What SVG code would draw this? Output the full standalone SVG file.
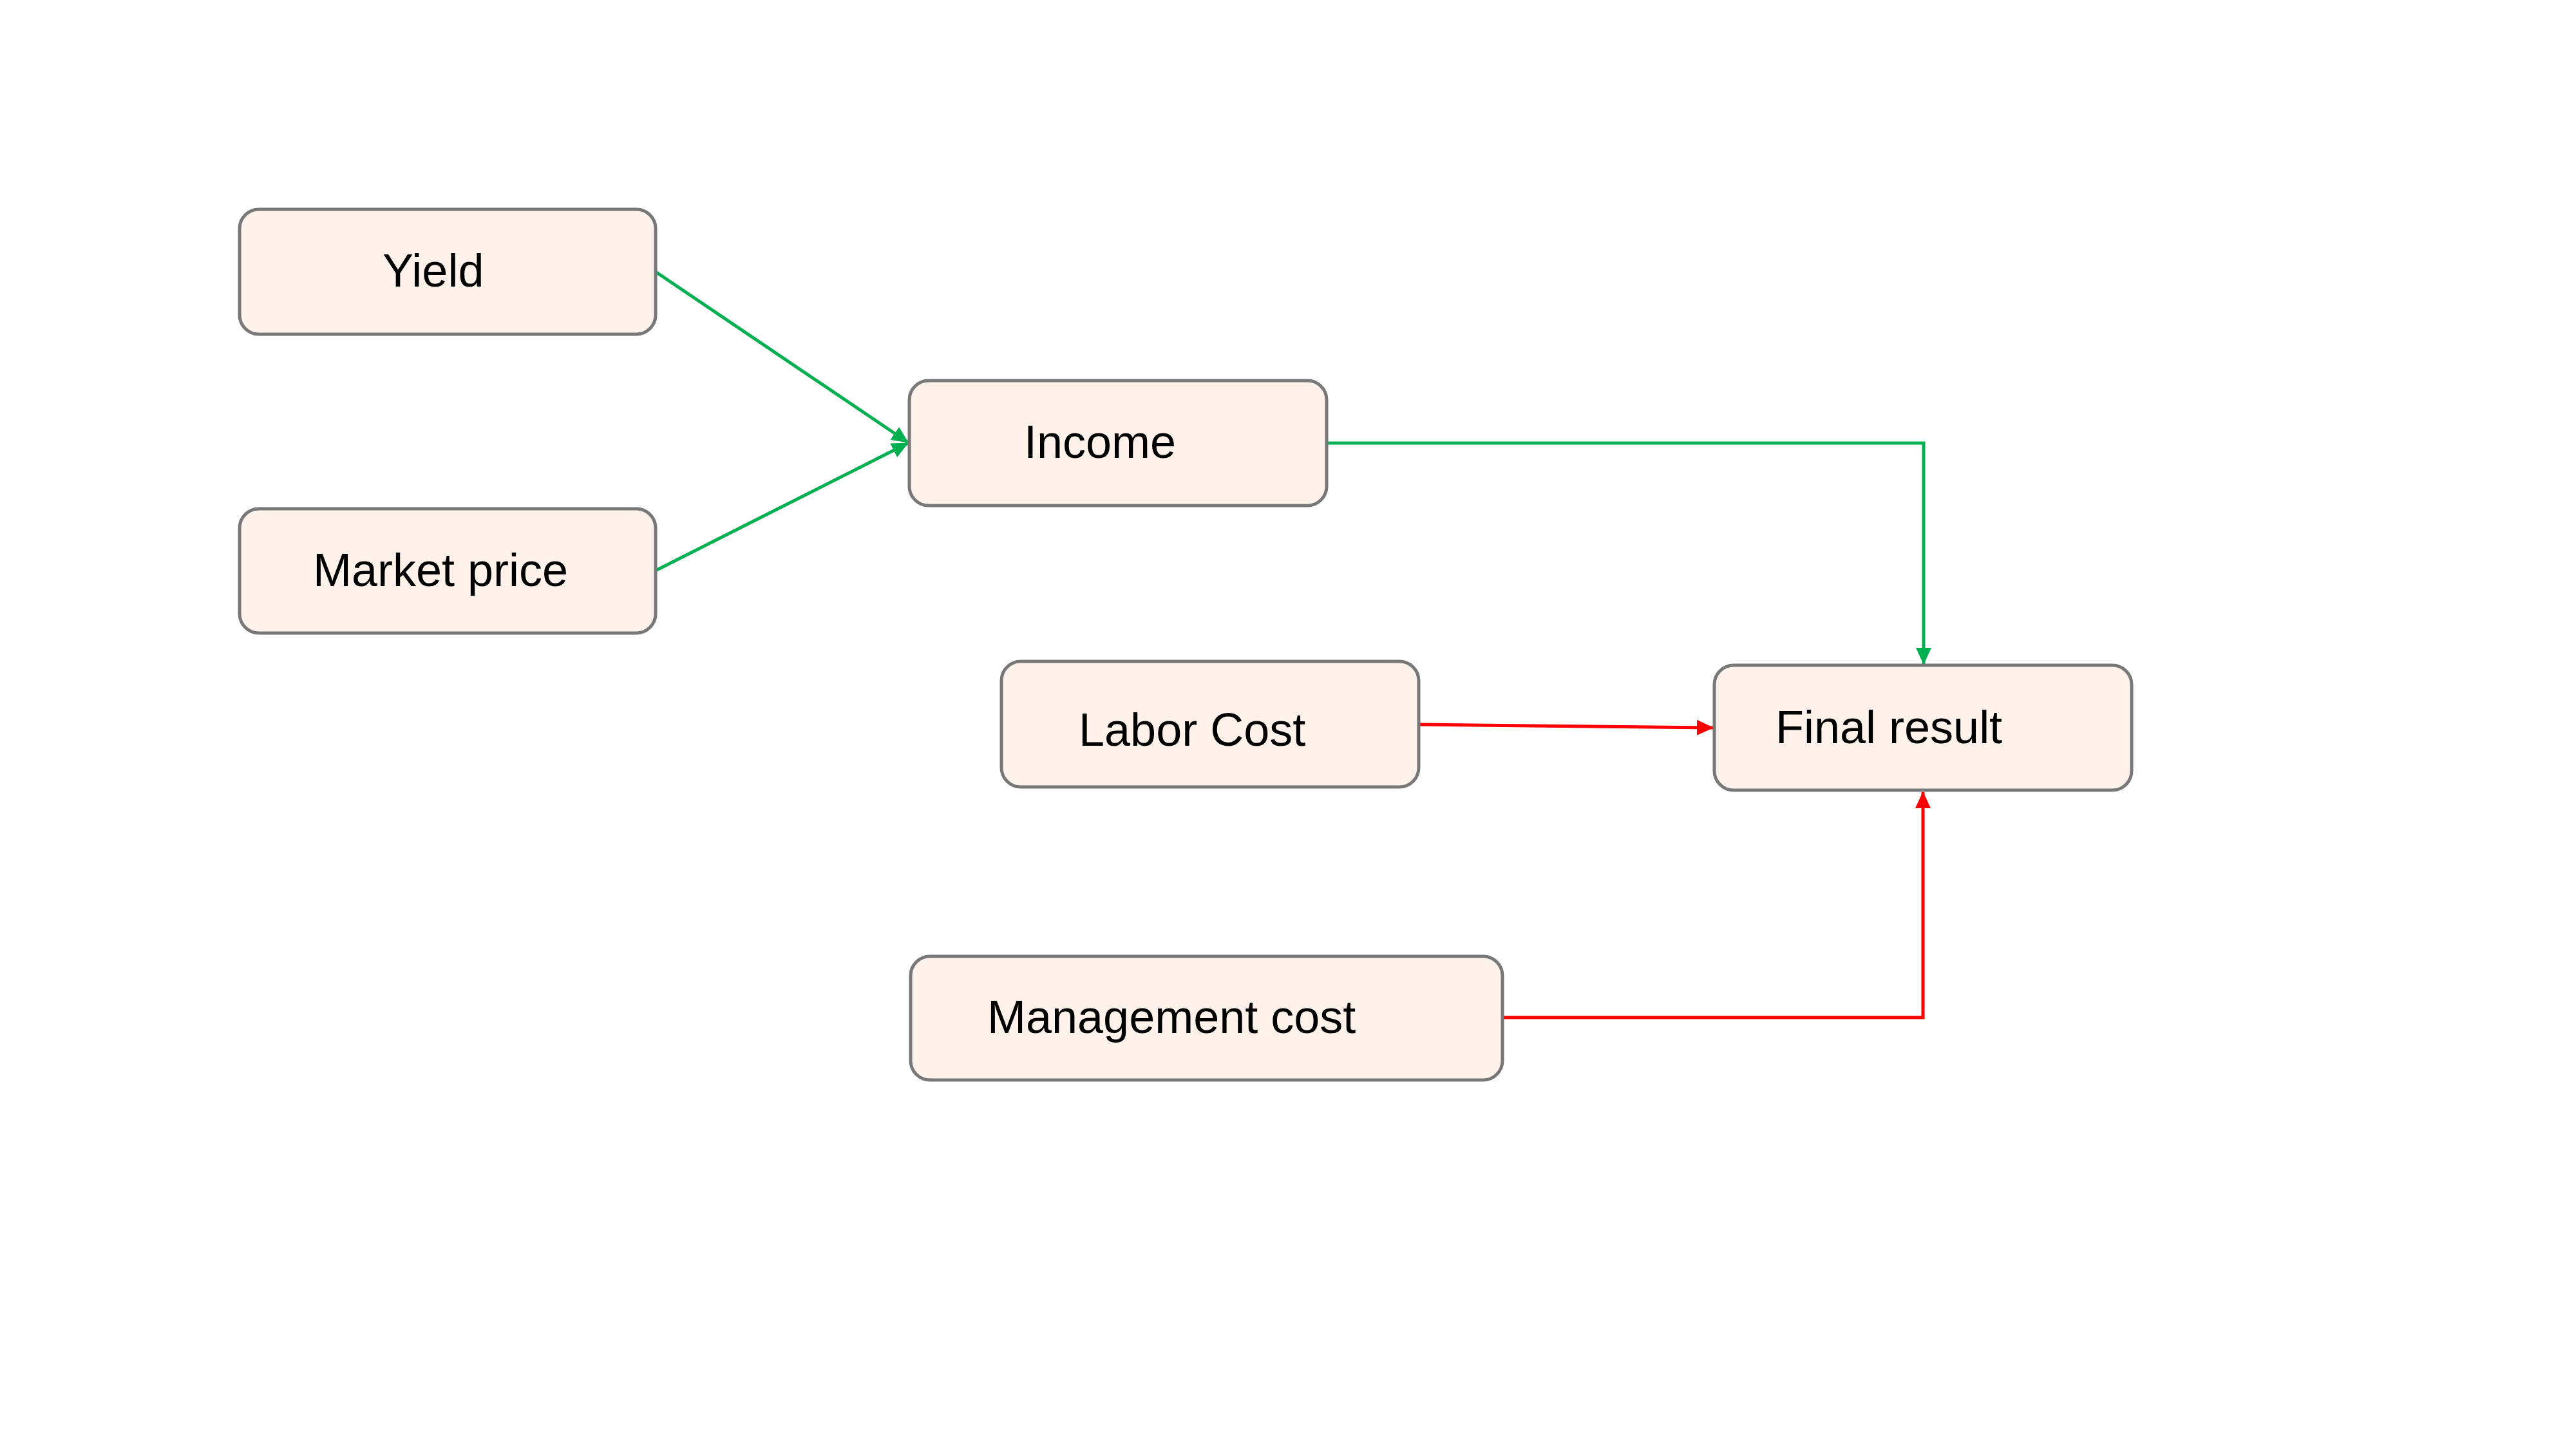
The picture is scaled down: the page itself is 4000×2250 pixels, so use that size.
<svg xmlns="http://www.w3.org/2000/svg" width="4000" height="2250" viewBox="0 0 4000 2250">
<style>
.box{fill:#FEF2EA;stroke:#787878;stroke-width:5}
.lbl{font-family:"Liberation Sans",Arial,sans-serif;font-size:72px;fill:#000}
.g{fill:none;stroke:#00B050;stroke-width:5}
.r{fill:none;stroke:#FF0000;stroke-width:5}
</style>
<defs>
<marker id="ag" markerUnits="userSpaceOnUse" markerWidth="26" markerHeight="26" viewBox="0 0 26 24" refX="25" refY="12" orient="auto"><path d="M0,0 L26,12 L0,24 z" fill="#00B050"/></marker>
<marker id="ar" markerUnits="userSpaceOnUse" markerWidth="26" markerHeight="26" viewBox="0 0 26 24" refX="25" refY="12" orient="auto"><path d="M0,0 L26,12 L0,24 z" fill="#FF0000"/></marker>
</defs>
<rect width="4000" height="2250" fill="#fff"/>
<g id="connectors">
<path class="g" d="M1018,422 L1410,687" marker-end="url(#ag)"/>
<path class="g" d="M1018,886 L1410,688" marker-end="url(#ag)"/>
<path class="g" d="M2060,688 L2987,688 L2987,1031" marker-end="url(#ag)"/>
<path class="r" d="M2203,1125 L2660,1130" marker-end="url(#ar)"/>
<path class="r" d="M2333,1580 L2986,1580 L2986,1230" marker-end="url(#ar)"/>
</g>
<g id="yield"><rect class="box" x="372" y="325" width="646" height="194" rx="30"/><text class="lbl" x="594" y="445">Yield</text></g>
<g id="market-price"><rect class="box" x="372" y="790" width="646" height="193" rx="30"/><text class="lbl" x="486" y="910">Market price</text></g>
<g id="income"><rect class="box" x="1412" y="591" width="648" height="194" rx="30"/><text class="lbl" x="1590" y="711">Income</text></g>
<g id="labor-cost"><rect class="box" x="1555" y="1027" width="648" height="195" rx="30"/><text class="lbl" x="1675" y="1158">Labor Cost</text></g>
<g id="final-result"><rect class="box" x="2662" y="1033" width="648" height="194" rx="30"/><text class="lbl" x="2757" y="1154">Final result</text></g>
<g id="management-cost"><rect class="box" x="1414" y="1485" width="919" height="192" rx="30"/><text class="lbl" x="1533" y="1604">Management cost</text></g>
</svg>
